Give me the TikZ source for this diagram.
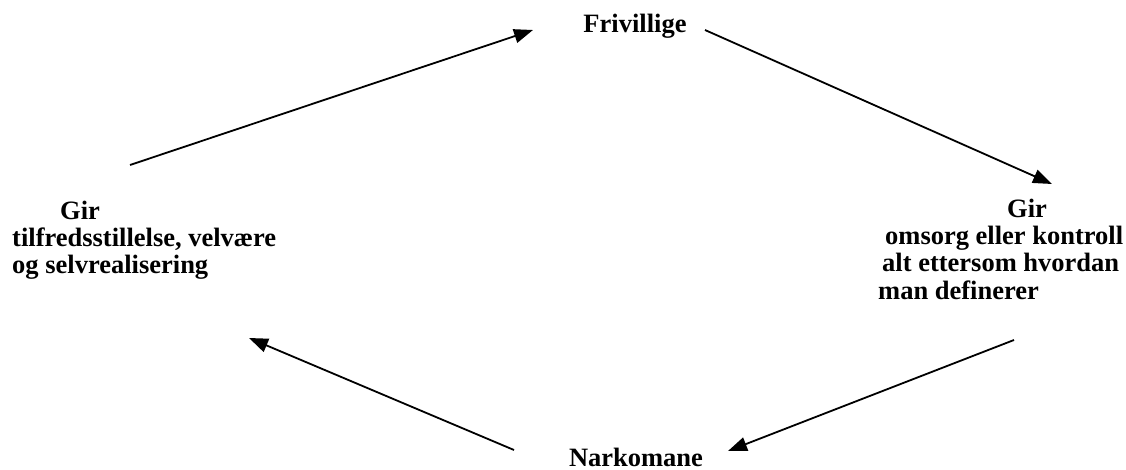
\documentclass[tikz,border=0pt]{standalone}
\usepackage{fontspec}
\setmainfont{Liberation Serif}
\usetikzlibrary{arrows.meta}
\begin{document}
\begin{tikzpicture}[x=1pt,y=-1pt,
  lbl/.style={inner sep=0pt,font=\fontsize{26.5}{27.2}\selectfont\bfseries},
  conn/.style={line width=1.8pt,-{Triangle[length=19pt,width=14pt]}}]
\useasboundingbox (0,0) rectangle (1126,470);
\node[lbl,anchor=base] (friv) at (635,33) {Frivillige};
\node[lbl,anchor=base] (nark) at (636,466) {Narkomane};
\node[lbl,anchor=north west,align=left] (left) at (12,201)
  {\hspace*{48pt}Gir\\tilfredsstillelse, velvære\\og selvrealisering};
\node[lbl,anchor=north west,align=left] (right) at (878,199)
  {\hspace*{129pt}Gir\\\hspace*{7pt}omsorg eller kontroll\\\hspace*{4pt}alt ettersom hvordan\\man definerer};
\coordinate (a1s) at (130,165); \coordinate (a1e) at (533,30);
\coordinate (a2s) at (705,30);  \coordinate (a2e) at (1052,184);
\coordinate (a3s) at (1014,340); \coordinate (a3e) at (728,451);
\coordinate (a4s) at (514,450); \coordinate (a4e) at (249,338);
\draw[conn] (a1s) -- (a1e);
\draw[conn] (a2s) -- (a2e);
\draw[conn] (a3s) -- (a3e);
\draw[conn] (a4s) -- (a4e);
\end{tikzpicture}
\end{document}
